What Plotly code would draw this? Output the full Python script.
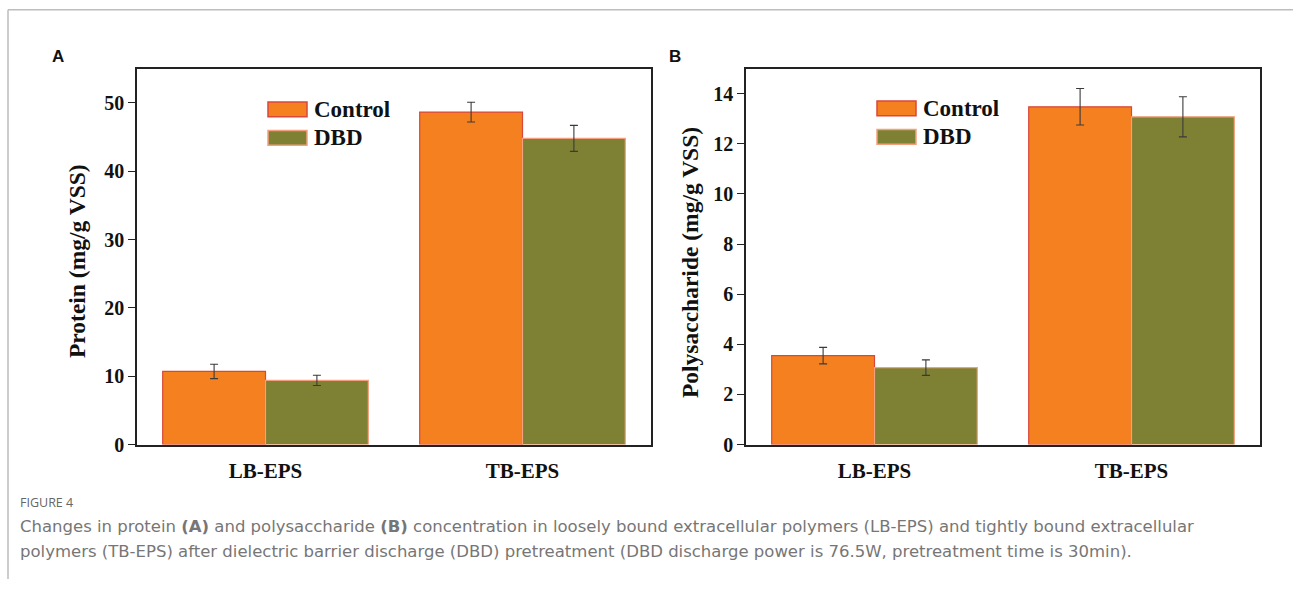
import plotly.graph_objects as go

W, H = 1293, 590

categories = ["LB-EPS", "TB-EPS"]
series_names = ["Control", "DBD"]

protein_control = [10.7, 48.65]
protein_control_err = [1.05, 1.45]
protein_dbd = [9.4, 44.8]
protein_dbd_err = [0.75, 1.9]

poly_control = [3.55, 13.48]
poly_control_err = [0.33, 0.73]
poly_dbd = [3.07, 13.08]
poly_dbd_err = [0.31, 0.8]

protein_ticks = [0, 10, 20, 30, 40, 50]
poly_ticks = [0, 2, 4, 6, 8, 10, 12, 14]

ORANGE = "#F58020"
OLIVE = "#7E8033"
ORANGE_EDGE = "#D9473A"
OLIVE_EDGE = "#F4A07E"
ERR = "#3a3a3a"
SERIF = "Liberation Serif"


def px_x(p):
    return p / W


def px_y(p):
    return 1 - p / H


fig = go.Figure()


def add_bars(y, err, name, color, edge, xa, ya):
    fig.add_trace(go.Bar(
        x=categories, y=y, name=name, xaxis=xa, yaxis=ya,
        marker=dict(color=color, line=dict(color=edge, width=1.2)),
        error_y=dict(type="data", array=err, visible=True, color=ERR, thickness=1.1, width=4),
        showlegend=False,
    ))


add_bars(protein_control, protein_control_err, series_names[0], ORANGE, ORANGE_EDGE, "x", "y")
add_bars(protein_dbd, protein_dbd_err, series_names[1], OLIVE, OLIVE_EDGE, "x", "y")
add_bars(poly_control, poly_control_err, series_names[0], ORANGE, ORANGE_EDGE, "x2", "y2")
add_bars(poly_dbd, poly_dbd_err, series_names[1], OLIVE, OLIVE_EDGE, "x2", "y2")

ydom = [px_y(453), px_y(70)]
xaxis_common = dict(
    showline=True, linecolor="#222", linewidth=1.5, mirror=True,
    ticks="", showgrid=False, zeroline=False, range=[-0.5, 1.5],
    tickfont=dict(family=SERIF, size=21, color="#111", weight="bold"),
    ticklabelstandoff=6,
)
yaxis_common = dict(
    showline=True, linecolor="#222", linewidth=1.5, mirror=True,
    ticks="outside", ticklen=7, tickwidth=1.3, tickcolor="#222",
    showgrid=False, zeroline=False,
    tickfont=dict(family=SERIF, size=20, color="#111", weight="bold"),
    domain=ydom,
)

fig.update_layout(
    width=W, height=H, autosize=False,
    margin=dict(l=0, r=0, t=0, b=0),
    paper_bgcolor="white", plot_bgcolor="white",
    barmode="group", bargap=0.2, bargroupgap=0,
    showlegend=False,
    xaxis=dict(domain=[px_x(137), px_x(651)], anchor="y", **xaxis_common),
    yaxis=dict(anchor="x", range=[0, 55], tickvals=protein_ticks, **yaxis_common),
    xaxis2=dict(domain=[px_x(746), px_x(1260)], anchor="y2", **xaxis_common),
    yaxis2=dict(anchor="x2", range=[0, 15], tickvals=poly_ticks, **yaxis_common),
)

shapes = []
annotations = []

# outer frame lines
shapes.append(dict(type="line", xref="paper", yref="paper", x0=px_x(8), x1=1, y0=px_y(10), y1=px_y(10),
                   line=dict(color="#bdbdbd", width=1.5)))
shapes.append(dict(type="line", xref="paper", yref="paper", x0=px_x(8), x1=px_x(8), y0=px_y(10), y1=0,
                   line=dict(color="#bdbdbd", width=1.5)))

# manual legends
legend_specs = [
    (268, [(104, 119), (133, 148)]),
    (877, [(103, 118), (132, 147)]),
]
for x0, rows in legend_specs:
    for (ya, yb), nm, col, edge in zip(rows, series_names, [ORANGE, OLIVE], [ORANGE_EDGE, OLIVE_EDGE]):
        shapes.append(dict(type="rect", xref="paper", yref="paper",
                           x0=px_x(x0), x1=px_x(x0 + 39), y0=px_y(yb), y1=px_y(ya),
                           fillcolor=col, line=dict(color=edge, width=1.5)))
        annotations.append(dict(text=nm, xref="paper", yref="paper", x=px_x(x0 + 44), y=px_y((ya + yb) / 2),
                                xanchor="left", yanchor="middle", showarrow=False,
                                font=dict(family=SERIF, size=23, color="#111", weight="bold")))

# y-axis titles
annotations.append(dict(text="Protein (mg/g VSS)", xref="paper", yref="paper", x=px_x(77), y=px_y(266),
                        textangle=-90, showarrow=False, xanchor="center", yanchor="middle",
                        font=dict(family=SERIF, size=23.5, color="#111", weight="bold")))
annotations.append(dict(text="Polysaccharide (mg/g VSS)", xref="paper", yref="paper", x=px_x(690), y=px_y(267),
                        textangle=-90, showarrow=False, xanchor="center", yanchor="middle",
                        font=dict(family=SERIF, size=23.5, color="#111", weight="bold")))

# panel letters
for lbl, xp in [("A", 58), ("B", 675)]:
    annotations.append(dict(text=lbl, xref="paper", yref="paper", x=px_x(xp), y=px_y(58),
                            showarrow=False, xanchor="center", yanchor="middle",
                            font=dict(family="Liberation Sans", size=17, color="#111", weight="bold")))

# caption
CAP = "DejaVu Sans"
annotations.append(dict(text="FIGURE 4", xref="paper", yref="paper", x=px_x(18), y=px_y(512),
                        showarrow=False, xanchor="left", yanchor="middle",
                        font=dict(family="Open Sans", size=12.5, color="#666")))
cap1 = ("Changes in protein <b>(A)</b> and polysaccharide <b>(B)</b> concentration in loosely bound extracellular "
        "polymers (LB-EPS) and tightly bound extracellular")
cap2 = ("polymers (TB-EPS) after dielectric barrier discharge (DBD) pretreatment (DBD discharge power is 76.5W, "
        "pretreatment time is 30min).")
for txt, yp in [(cap1, 537), (cap2, 562)]:
    annotations.append(dict(text=txt, xref="paper", yref="paper", x=px_x(18), y=px_y(yp),
                            showarrow=False, xanchor="left", yanchor="middle",
                            font=dict(family=CAP, size=16.5, color="#767676")))

fig.update_layout(shapes=shapes, annotations=annotations)
fig.write_html("out.html")
